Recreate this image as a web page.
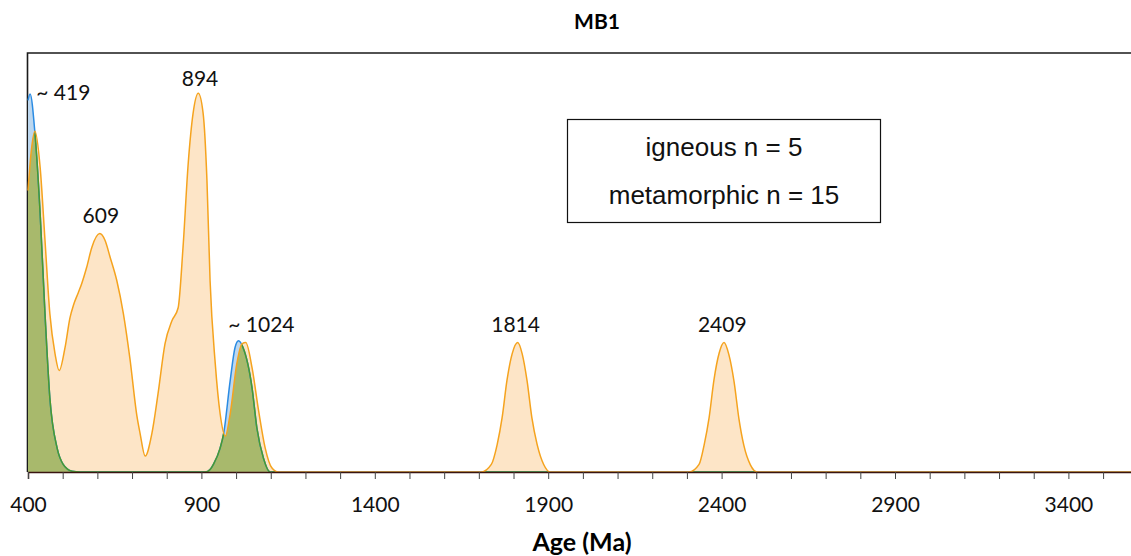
<!DOCTYPE html>
<html>
<head>
<meta charset="utf-8">
<script src="https://cdn.jsdelivr.net/npm/d3@7"></script>
<style>
  body { margin: 0; background: #fff; }
  .tick text { font-family: Lato, "Open Sans", sans-serif; font-size: 21px; fill: #111; }
  .peak { font-family: Lato, "Open Sans", sans-serif; font-size: 21px; fill: #111; }
  .legendText { font-family: "Liberation Sans", Arial, sans-serif; font-size: 26px; fill: #111; }
</style>
</head>
<body>
<div class="chart"></div>
<script>
// igneous probability density (age in Ma, relative density)
const igneousAge = [400, 406, 420, 435, 449, 463, 484, 501, 527, 550, 911, 925, 935, 954, 964, 983, 997, 1007, 1020, 1046, 1060, 1079, 1098, 3600];
const igneousDensity = [0.887, 0.902, 0.809, 0.617, 0.378, 0.177, 0.057, 0.019, 0.002, 0, 0, 0.006, 0.019, 0.057, 0.091, 0.218, 0.297, 0.313, 0.297, 0.201, 0.105, 0.033, 0, 0];

// metamorphic probability density
const metamorphicAge = [400, 410, 420, 435, 449, 463, 478, 490, 507, 521, 531, 545, 555, 569, 584, 607, 622, 637, 656, 675, 694, 714, 723, 738, 757, 775, 795, 815, 833, 847, 862, 876, 891, 905, 916, 925, 940, 954, 969, 983, 1002, 1017, 1028, 1046, 1065, 1084, 1103, 1122,
  1707, 1736, 1753, 1767, 1781, 1796, 1812, 1825, 1839, 1853, 1868, 1887, 1906,
  2306, 2335, 2350, 2364, 2378, 2393, 2407, 2421, 2436, 2450, 2464, 2483, 2503, 3600];
const metamorphicDensity = [0.672, 0.77, 0.813, 0.727, 0.553, 0.378, 0.282, 0.242, 0.298, 0.368, 0.398, 0.428, 0.45, 0.488, 0.536, 0.569, 0.553, 0.512, 0.457, 0.378, 0.27, 0.134, 0.093, 0.038, 0.091, 0.187, 0.306, 0.361, 0.392, 0.536, 0.737, 0.856, 0.904, 0.856, 0.696, 0.457, 0.258, 0.139, 0.086, 0.139, 0.258, 0.306, 0.309, 0.249, 0.146, 0.057, 0.01, 0,
  0, 0.018, 0.066, 0.129, 0.218, 0.282, 0.309, 0.282, 0.218, 0.129, 0.066, 0.018, 0,
  0, 0.018, 0.066, 0.13, 0.22, 0.284, 0.309, 0.28, 0.215, 0.127, 0.064, 0.017, 0, 0];

// peak annotations (label, age it sits over, height in density units)
const peakLabels = ["~ 419", "609", "894", "~ 1024", "1814", "2409"];
const peakAges = [502, 610, 896, 1073, 1806, 2402];
const peakLevels = [0.888, 0.594, 0.921, 0.333, 0.333, 0.333];

const tickValues = d3.range(400, 3600, 100);
const legendLines = ["igneous n = 5", "metamorphic n = 15"];

const width = 1131, height = 556;
const margin = { top: 53, bottom: 84, left: 28 };
const pxPerMa = 0.3468;

const svg = d3
  .select(".chart")
  .append("svg")
  .attr("width", width)
  .attr("height", height);

const x = d3
  .scaleLinear()
  .domain([400, 3600])
  .range([margin.left, margin.left + 3200 * pxPerMa]);

const y = d3
  .scaleLinear()
  .domain([0, 1])
  .range([height - margin.bottom, margin.top]);

const igneous = igneousAge.map((a, i) => ({ age: a, v: igneousDensity[i] }));
const metamorphic = metamorphicAge.map((a, i) => ({ age: a, v: metamorphicDensity[i] }));

// frame (left + top), drawn under the curves
svg
  .append("path")
  .attr("d", `M${x(400) - 0.5},${y(0)}V${margin.top}H${width + 5}`)
  .attr("fill", "none")
  .attr("stroke", "#1a1a1a")
  .attr("stroke-width", 1.6);

const area = d3
  .area()
  .x(d => x(d.age))
  .y0(y(0))
  .y1(d => y(d.v))
  .curve(d3.curveMonotoneX);

const line = d3
  .line()
  .x(d => x(d.age))
  .y(d => y(d.v))
  .curve(d3.curveMonotoneX);

// clip for the overlap of both distributions
svg
  .append("clipPath")
  .attr("id", "meta-clip")
  .append("path")
  .attr("d", area(metamorphic));

svg.append("path").attr("d", area(metamorphic)).attr("fill", "#fde5c7");
svg.append("path").attr("d", area(igneous)).attr("fill", "#bcd7ef");
svg
  .append("path")
  .attr("d", area(igneous))
  .attr("clip-path", "url(#meta-clip)")
  .attr("fill", "#a8b96c");

svg
  .append("path")
  .attr("d", line(igneous))
  .attr("fill", "none")
  .attr("stroke", "#2a8be3")
  .attr("stroke-width", 1.5);

svg
  .append("path")
  .attr("d", line(igneous))
  .attr("clip-path", "url(#meta-clip)")
  .attr("fill", "none")
  .attr("stroke", "#4a9a2c")
  .attr("stroke-width", 1.5);

svg
  .append("path")
  .attr("d", line(metamorphic))
  .attr("fill", "none")
  .attr("stroke", "#f5a31e")
  .attr("stroke-width", 1.5);

// x axis
const xAxis = d3
  .axisBottom(x)
  .tickValues(tickValues)
  .tickSize(7)
  .tickPadding(18)
  .tickFormat(d => ((d - 400) % 500 === 0 ? d : ""));

const xAxisSVG = svg
  .append("g")
  .attr("class", "axis x-axis")
  .attr("transform", "translate(0," + y(0) + ")")
  .call(xAxis);

xAxisSVG.select(".domain").attr("stroke", "#3a1410").attr("stroke-width", 1.5);
xAxisSVG.selectAll(".tick line").attr("stroke", "#444");

svg
  .append("text")
  .attr("x", 582)
  .attr("y", 551)
  .attr("text-anchor", "middle")
  .style("font-family", "Lato, 'Open Sans', sans-serif")
  .style("font-weight", "bold")
  .style("font-size", "25px")
  .text("Age (Ma)");

// title
svg
  .append("text")
  .attr("x", 597)
  .attr("y", 29)
  .attr("text-anchor", "middle")
  .style("font-family", "Lato, 'Open Sans', sans-serif")
  .style("font-weight", "bold")
  .style("font-size", "21px")
  .text("MB1");

// peak labels
svg
  .selectAll(".peak")
  .data(peakLabels)
  .join("text")
  .attr("class", "peak")
  .attr("x", (d, i) => x(peakAges[i]))
  .attr("y", (d, i) => y(peakLevels[i]))
  .attr("text-anchor", "middle")
  .text(d => d);

// legend box
const legend = svg.append("g").attr("class", "legendWrapper");

legend
  .append("rect")
  .attr("x", 567.5)
  .attr("y", 119.5)
  .attr("width", 313)
  .attr("height", 103)
  .attr("fill", "#fff")
  .attr("stroke", "#111")
  .attr("stroke-width", 1.2);

legend
  .selectAll(".legendText")
  .data(legendLines)
  .join("text")
  .attr("class", "legendText")
  .attr("x", 724)
  .attr("y", (d, i) => 156 + i * 48)
  .attr("text-anchor", "middle")
  .text(d => d);
</script>
</body>
</html>
